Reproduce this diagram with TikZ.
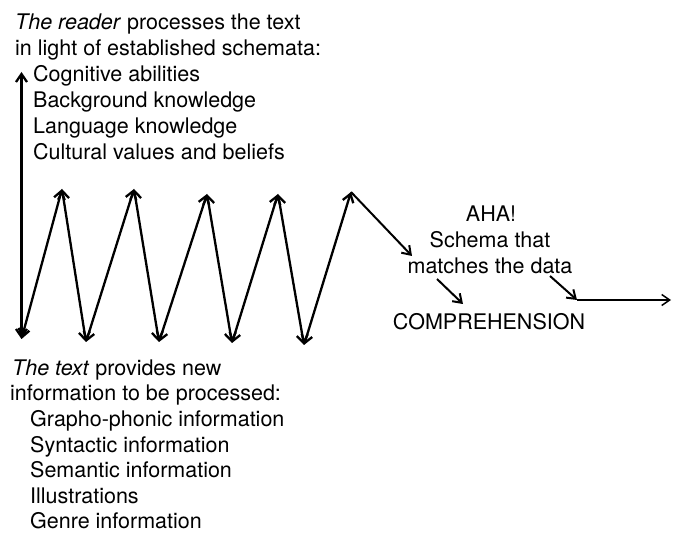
\documentclass[tikz,border=0pt]{standalone}
\usepackage{fontspec}
\setmainfont{TeX Gyre Heros}
\usetikzlibrary{arrows.meta}
\begin{document}
\begin{tikzpicture}[x=1pt,y=-1pt,
  >={Straight Barb[length=8pt,width=11pt]},
  txt/.style={inner sep=0pt, anchor=base west, font=\fontsize{21.5}{26}\selectfont},
  ctxt/.style={txt, anchor=base},
  zig/.style={line width=2.3pt, <->},
  lead/.style={line width=2pt, ->}]
\useasboundingbox (0,0) rectangle (673,537);

% reader side: heading and schemata
\node[txt] (r1) at (15,30)  {\textit{The reader} processes the text};
\node[txt] (r2) at (15,56)  {in light of established schemata:};
\node[txt] (s1) at (33,82)  {Cognitive abilities};
\node[txt] (s2) at (33,108) {Background knowledge};
\node[txt] (s3) at (33,134) {Language knowledge};
\node[txt] (s4) at (33,160) {Cultural values and beliefs};

% text side: heading and information sources
\node[txt] (t1) at (12,376) {\textit{The text} provides new};
\node[txt] (t2) at (10,401) {information to be processed:};
\node[txt] (i1) at (30,427) {Grapho-phonic information};
\node[txt] (i2) at (30,453) {Syntactic information};
\node[txt] (i3) at (30,478) {Semantic information};
\node[txt] (i4) at (30,504) {Illustrations};
\node[txt] (i5) at (30,529) {Genre information};

% outcome
\node[ctxt] (aha)  at (491,222) {AHA!};
\node[ctxt] (sch)  at (490,248) {Schema that};
\node[ctxt] (mat)  at (490,274) {matches the data};
\node[ctxt] (comp) at (489,330) {COMPREHENSION};

% zigzag vertices
\coordinate (top) at (21.5,72);
\coordinate (v0) at (21.5,339);
\coordinate (p1) at (62,189);
\coordinate (v1) at (86,342);
\coordinate (p2) at (134,189);
\coordinate (v2) at (159,342);
\coordinate (p3) at (207,194);
\coordinate (v3) at (232,343);
\coordinate (p4) at (278,194);
\coordinate (v4) at (304,345);
\coordinate (p5) at (351,192);
\coordinate (e1) at (412,256);

% leads to comprehension
\coordinate (a1s) at (437,279);
\coordinate (a1e) at (463,304);
\coordinate (a2s) at (550,276);
\coordinate (a2e) at (577,300);
\coordinate (out) at (671,300);

\draw[zig] (top) -- (v0);
\draw[zig] (v0) -- (p1);
\draw[zig] (p1) -- (v1);
\draw[zig] (v1) -- (p2);
\draw[zig] (p2) -- (v2);
\draw[zig] (v2) -- (p3);
\draw[zig] (p3) -- (v3);
\draw[zig] (v3) -- (p4);
\draw[zig] (p4) -- (v4);
\draw[zig] (v4) -- (p5);
\draw[lead] (p5) -- (e1);

\draw[lead] (a1s) -- (a1e);
\draw[lead] (a2s) -- (a2e);
\draw[lead, line width=1.5pt] (a2e) -- (out);
\end{tikzpicture}
\end{document}
